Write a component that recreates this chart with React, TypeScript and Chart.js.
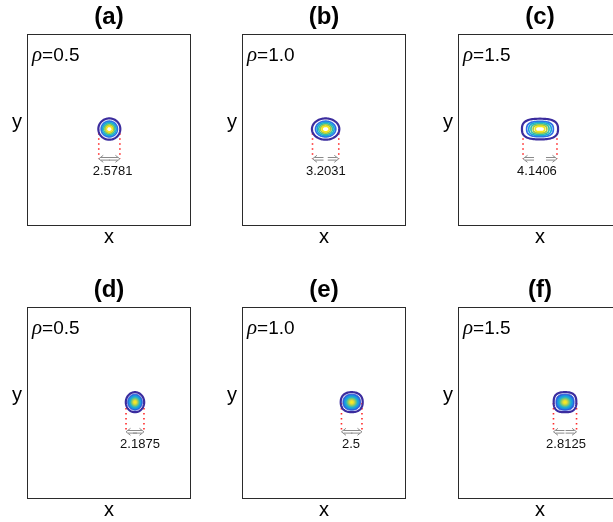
import React, { useEffect, useRef } from 'react';
import { Chart, registerables } from 'chart.js';

Chart.register(...registerables);

// ---- data ----
const panelLabels = ['(a)', '(b)', '(c)', '(d)', '(e)', '(f)'];
const rhoLabels = ['0.5', '1.0', '1.5', '0.5', '1.0', '1.5'];
const widthValues = [2.5781, 3.2031, 4.1406, 2.1875, 2.5, 2.8125];
const widthLabels = ['2.5781', '3.2031', '4.1406', '2.1875', '2.5', '2.8125'];
const centerX = [0.04, 0.2, 0.0, 3.17, 3.38, 3.05];
const centerY = [0.12, 0.12, 0.12, 0.1, 0.1, 0.1];
const radiusX = [1.34, 1.67, 2.2, 1.12, 1.34, 1.38];
const radiusY = [1.33, 1.33, 1.29, 1.25, 1.25, 1.25];
const shapeExp = [2, 2, 2.7, 2, 2.3, 2.7];
const filledPanels = [false, false, false, true, true, true];
const labelX = [0.43, 0.22, -0.37, 3.78, 3.29, 3.17];
const markerTop = [-0.4, -0.4, -0.4, 0.0, 0.0, 0.0];
const markerBottom = -3.6;
const labelY = -5.15;
const contourLevels = [1, 0.74, 0.62, 0.5, 0.38, 0.26];
const contourColors = ['#3b2c9e', '#2f6fe8', '#1ba5d8', '#35bfa5', '#a8c840', '#f5e51e'];
const xRange = [-10, 10];
const yRange = [-12, 12];

const colLefts = [0, 215, 431];
const rowTops = [0, 273];
const CW = 215;
const CH = 261;

function superPath(ctx: CanvasRenderingContext2D, cx: number, cy: number, rx: number, ry: number, p: number) {
  ctx.beginPath();
  const n = 96;
  for (let k = 0; k <= n; k++) {
    const t = (k / n) * Math.PI * 2;
    const c = Math.cos(t);
    const s = Math.sin(t);
    const x = cx + rx * Math.sign(c) * Math.pow(Math.abs(c), 2 / p);
    const y = cy + ry * Math.sign(s) * Math.pow(Math.abs(s), 2 / p);
    if (k === 0) ctx.moveTo(x, y);
    else ctx.lineTo(x, y);
  }
  ctx.closePath();
}

function makePlugin(i: number) {
  return {
    id: 'panelDecor' + i,
    afterDatasetsDraw(chart: any) {
      const ctx: CanvasRenderingContext2D = chart.ctx;
      const xs = chart.scales.x;
      const ys = chart.scales.y;
      const cx = xs.getPixelForValue(centerX[i]);
      const cy = ys.getPixelForValue(centerY[i]);
      const rx = xs.getPixelForValue(centerX[i] + radiusX[i]) - cx;
      const ry = cy - ys.getPixelForValue(centerY[i] + radiusY[i]);
      const p = shapeExp[i];
      ctx.save();
      if (!filledPanels[i]) {
        contourLevels.forEach((lv, k) => {
          superPath(ctx, cx, cy, rx * lv, ry * lv, p);
          ctx.strokeStyle = contourColors[k];
          ctx.lineWidth = k === 0 ? 2.2 : 1.7;
          ctx.stroke();
        });
      } else {
        superPath(ctx, cx, cy, rx, ry, p);
        ctx.strokeStyle = contourColors[0];
        ctx.lineWidth = 2.2;
        ctx.stroke();
        ctx.save();
        ctx.translate(cx, cy);
        ctx.scale(rx * 0.8, ry * 0.8);
        const g = ctx.createRadialGradient(0, 0, 0, 0, 0, 1);
        g.addColorStop(0, '#f9fb15');
        g.addColorStop(0.22, '#e6d93a');
        g.addColorStop(0.45, '#7cc870');
        g.addColorStop(0.65, '#1fb0d0');
        g.addColorStop(0.85, '#1c8ee0');
        g.addColorStop(1, '#2a5fe0');
        superPath(ctx, 0, 0, 1, 1, p);
        ctx.fillStyle = g;
        ctx.fill();
        ctx.restore();
        superPath(ctx, cx, cy, rx * 0.8, ry * 0.8, p);
        ctx.strokeStyle = '#2a55d8';
        ctx.lineWidth = 1;
        ctx.stroke();
      }
      // arrows
      const ay = ys.getPixelForValue(markerBottom);
      const xl = xs.getPixelForValue(centerX[i] - widthValues[i] / 2);
      const xr = xs.getPixelForValue(centerX[i] + widthValues[i] / 2);
      ctx.strokeStyle = '#8a8a8a';
      ctx.lineWidth = 1;
      const drawArrow = (head: number, dir: number) => {
        const tail = head + dir * 11;
        ctx.beginPath();
        ctx.moveTo(head + dir * 2, ay - 1.3);
        ctx.lineTo(tail, ay - 1.3);
        ctx.moveTo(head + dir * 2, ay + 1.3);
        ctx.lineTo(tail, ay + 1.3);
        ctx.moveTo(head + dir * 4.5, ay - 3.5);
        ctx.lineTo(head, ay);
        ctx.lineTo(head + dir * 4.5, ay + 3.5);
        ctx.stroke();
      };
      drawArrow(xl, 1);
      drawArrow(xr, -1);
      // width label
      ctx.fillStyle = '#111';
      ctx.font = '13px "Liberation Sans", Arial, sans-serif';
      ctx.textAlign = 'center';
      ctx.textBaseline = 'middle';
      ctx.fillText(widthLabels[i], xs.getPixelForValue(labelX[i]), ys.getPixelForValue(labelY));
      ctx.restore();
    },
    afterDraw(chart: any) {
      const ctx: CanvasRenderingContext2D = chart.ctx;
      const a = chart.chartArea;
      ctx.save();
      ctx.strokeStyle = '#2b2b2b';
      ctx.lineWidth = 1;
      ctx.strokeRect(a.left + 0.5, a.top + 0.5, a.right - a.left - 1, a.bottom - a.top - 1);
      const midX = (a.left + a.right) / 2;
      const midY = (a.top + a.bottom) / 2;
      ctx.fillStyle = '#000';
      ctx.textAlign = 'center';
      ctx.textBaseline = 'middle';
      ctx.font = 'bold 24px "Liberation Sans", Arial, sans-serif';
      ctx.fillText(panelLabels[i], midX, a.top - 17);
      ctx.textBaseline = 'alphabetic';
      ctx.font = '20px "Liberation Sans", Arial, sans-serif';
      ctx.fillText('y', a.left - 10, midY - 2);
      ctx.fillText('x', midX, a.bottom + 17);
      ctx.textAlign = 'left';
      ctx.font = 'italic 21px "Liberation Serif", serif';
      const rx0 = a.left + 5;
      const by = a.top + 27;
      ctx.fillText('\u03c1', rx0, by);
      const rw = ctx.measureText('\u03c1').width;
      ctx.font = '19px "Liberation Sans", Arial, sans-serif';
      ctx.fillText('=' + rhoLabels[i], rx0 + rw, by);
      ctx.restore();
    },
  };
}

function Panel({ i }: { i: number }) {
  const ref = useRef<HTMLCanvasElement>(null);
  useEffect(() => {
    if (!ref.current) return;
    const xl = centerX[i] - widthValues[i] / 2;
    const xr = centerX[i] + widthValues[i] / 2;
    const chart = new Chart(ref.current, {
      type: 'scatter',
      data: {
        datasets: [
          {
            type: 'line',
            data: [
              { x: xl, y: markerTop[i] },
              { x: xl, y: markerBottom },
            ],
            borderColor: '#ff2a2a',
            borderWidth: 1.6,
            borderDash: [1.5, 3.5],
            pointRadius: 0,
            showLine: true,
          } as any,
          {
            type: 'line',
            data: [
              { x: xr, y: markerTop[i] },
              { x: xr, y: markerBottom },
            ],
            borderColor: '#ff2a2a',
            borderWidth: 1.6,
            borderDash: [1.5, 3.5],
            pointRadius: 0,
            showLine: true,
          } as any,
        ],
      },
      options: {
        responsive: false,
        animation: false,
        devicePixelRatio: 1,
        layout: { padding: { left: 27, top: 34, right: 24, bottom: 35 } },
        scales: {
          x: { type: 'linear', min: xRange[0], max: xRange[1], display: false },
          y: { type: 'linear', min: yRange[0], max: yRange[1], display: false },
        },
        plugins: { legend: { display: false }, tooltip: { enabled: false }, title: { display: false } },
      },
      plugins: [makePlugin(i)],
    });
    return () => chart.destroy();
  }, [i]);
  const col = i % 3;
  const row = Math.floor(i / 3);
  return (
    <canvas
      ref={ref}
      width={CW}
      height={CH}
      style={{ position: 'absolute', left: colLefts[col], top: rowTops[row], width: CW, height: CH }}
    />
  );
}

export default function App() {
  return (
    <div
      style={{
        position: 'fixed',
        left: 0,
        top: 0,
        width: 613,
        height: 522,
        overflow: 'hidden',
        background: '#fff',
      }}
    >
      {[0, 1, 2, 3, 4, 5].map((i) => (
        <Panel key={i} i={i} />
      ))}
    </div>
  );
}
